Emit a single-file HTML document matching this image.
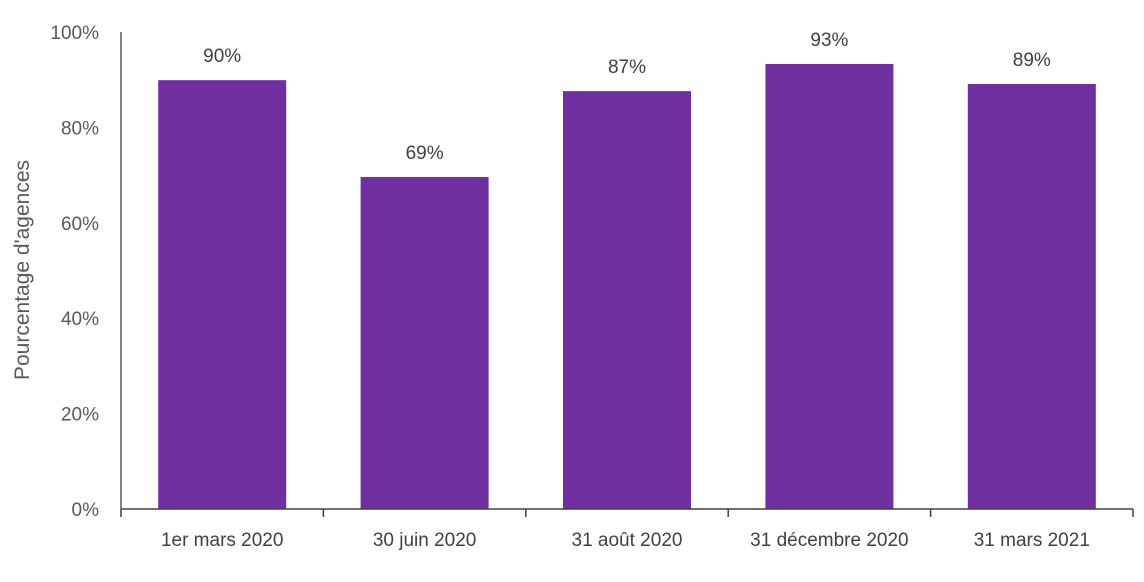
<!DOCTYPE html>
<html><head><meta charset="utf-8"><style>
body{margin:0;background:#fff;}
svg text{font-family:"Liberation Sans",sans-serif;}
</style></head><body>
<svg width="1144" height="577">
<g id="g"></g>
</svg>
<script>
const categories=["1er mars 2020","30 juin 2020","31 août 2020","31 décembre 2020","31 mars 2021"];
const values=[89.9,69.6,87.6,93.3,89.1];
const valueLabels=["90%","69%","87%","93%","89%"];
const yTicks=[0,20,40,60,80,100];
const yTickLabels=["0%","20%","40%","60%","80%","100%"];
const ns="http://www.w3.org/2000/svg";
const g=document.getElementById('g');
const x0=121,x1=1133,yTop=32,yBot=509;
const y=v=>yBot-(v/100)*(yBot-yTop);
const bw=(x1-x0)/categories.length;
function mk(t,a,txt){const e=document.createElementNS(ns,t);for(const k in a)e.setAttribute(k,a[k]);if(txt!==undefined)e.textContent=txt;g.appendChild(e);return e;}
yTicks.forEach((t,i)=>{
 const e=mk('text',{x:99,y:y(t)+7,'text-anchor':'end','font-size':19,fill:'#595959'},yTickLabels[i]);
 
 
});
values.forEach((v,i)=>{
 const cx=x0+bw*(i+0.5);
 const r=mk('rect',{x:cx-64,y:y(v),width:128,height:yBot-y(v),fill:'#7030A0'});
 
 
 const l=mk('text',{x:cx,y:y(v)-18,'text-anchor':'middle','font-size':19,fill:'#404040'},valueLabels[i]);
 
 
 const c=mk('text',{x:cx,y:546,'text-anchor':'middle','font-size':19,fill:'#404040'},categories[i]);
 
 
});
const ya=mk('line',{x1:x0,y1:yTop,x2:x0,y2:yBot,stroke:'#595959','stroke-width':1.5});


const xa=mk('line',{x1:x0,y1:yBot,x2:x1,y2:yBot,stroke:'#404040','stroke-width':1.5});


for(let i=0;i<=categories.length;i++){
 const t=mk('line',{x1:x0+bw*i,y1:yBot,x2:x0+bw*i,y2:517,stroke:'#404040','stroke-width':1.5});
 
 
}
const yt=mk('text',{x:0,y:0,'text-anchor':'middle','font-size':21,fill:'#595959',transform:'translate(29,270) rotate(-90)'},"Pourcentage d'agences");


</script>
</body></html>
